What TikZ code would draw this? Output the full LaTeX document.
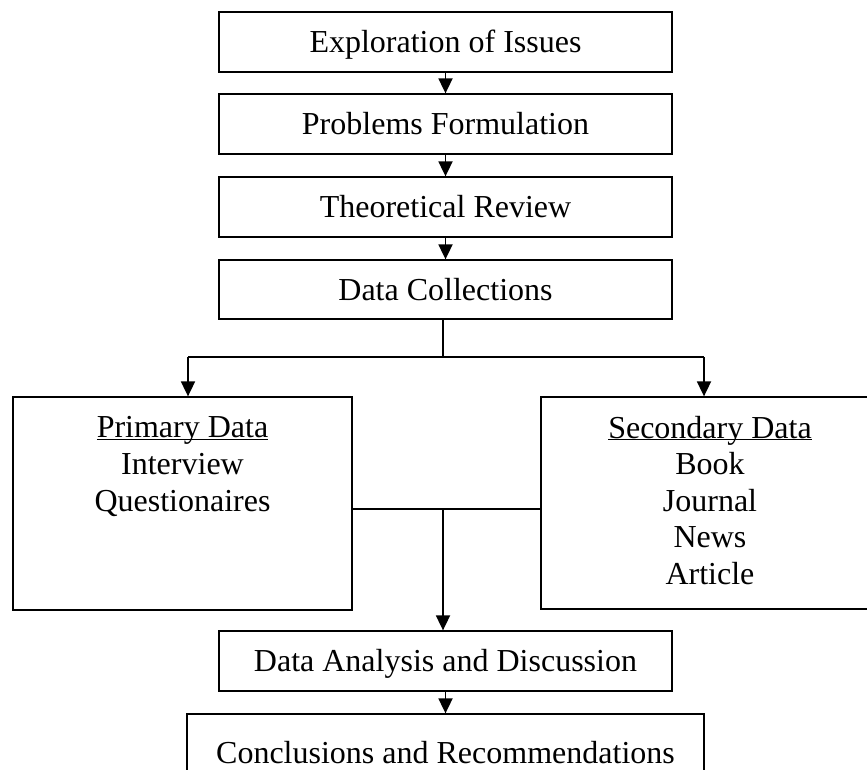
\documentclass[tikz,border=0pt]{standalone}
\usepackage{fontspec}
\setmainfont{Liberation Serif}
\usetikzlibrary{arrows.meta}
\begin{document}
\begin{tikzpicture}[x=1pt,y=-1pt,
  box/.style={draw=black,line width=1.3pt,rectangle,inner sep=0pt,
    minimum width=453pt,minimum height=60pt,text height=21pt,text depth=0pt,
    font=\fontsize{32}{36.6}\selectfont},
  bigbox/.style={draw=black,line width=1.3pt,rectangle,inner sep=0pt},
  txt/.style={align=center,inner sep=0pt,font=\fontsize{32}{36.6}\selectfont},
  arr/.style={line width=1.8pt,-{Triangle[length=15pt,width=14pt]}},
  thinline/.style={line width=1.1pt},
  thickline/.style={line width=1.8pt}]
\useasboundingbox (0,0) rectangle (867,769);
\node[box] (b1) at (445.5,42) {Exploration of Issues};
\node[box] (b2) at (445.5,124) {Problems Formulation};
\node[box] (b3) at (445.5,207) {Theoretical Review};
\node[box,minimum height=59pt] (b4) at (445.5,289.5) {Data Collections};
\node[bigbox,minimum width=339pt,minimum height=213pt] (prim) at (182.5,503.5) {};
\node[bigbox,minimum width=338pt,minimum height=212pt] (sec) at (710,503) {};
\node[txt] (primt) at (182.5,477) {\underline{\smash{Primary Data}}\\Interview\\Questionaires};
\node[txt] (sect) at (710,511.5) {\underline{\smash{Secondary Data}}\\Book\\Journal\\News\\Article};
\node[box] (da) at (445.5,661) {Data Analysis and Discussion};
\node[box,minimum width=517pt,minimum height=78pt] (conc) at (445.5,753) {Conclusions and Recommendations};
\draw[arr] (b1.south) -- (b2.north);
\draw[arr] (b2.south) -- (b3.north);
\draw[arr] (b3.south) -- (b4.north);
\coordinate (bc) at (443,357);
\coordinate (bl) at (188,357);
\coordinate (bR) at (704,357);
\coordinate (mid) at (443,509);
\draw[thinline] (b4.south -| bc) -- (bc);
\draw[thickline] (bl) -- (bR);
\draw[arr] (bl) -- (bl |- prim.north);
\draw[arr] (bR) -- (bR |- sec.north);
\draw[thinline] (prim.east |- mid) -- (sec.west |- mid);
\draw[arr] (mid) -- (mid |- da.north);
\draw[arr] (da.south) -- (conc.north);
\end{tikzpicture}
\end{document}
